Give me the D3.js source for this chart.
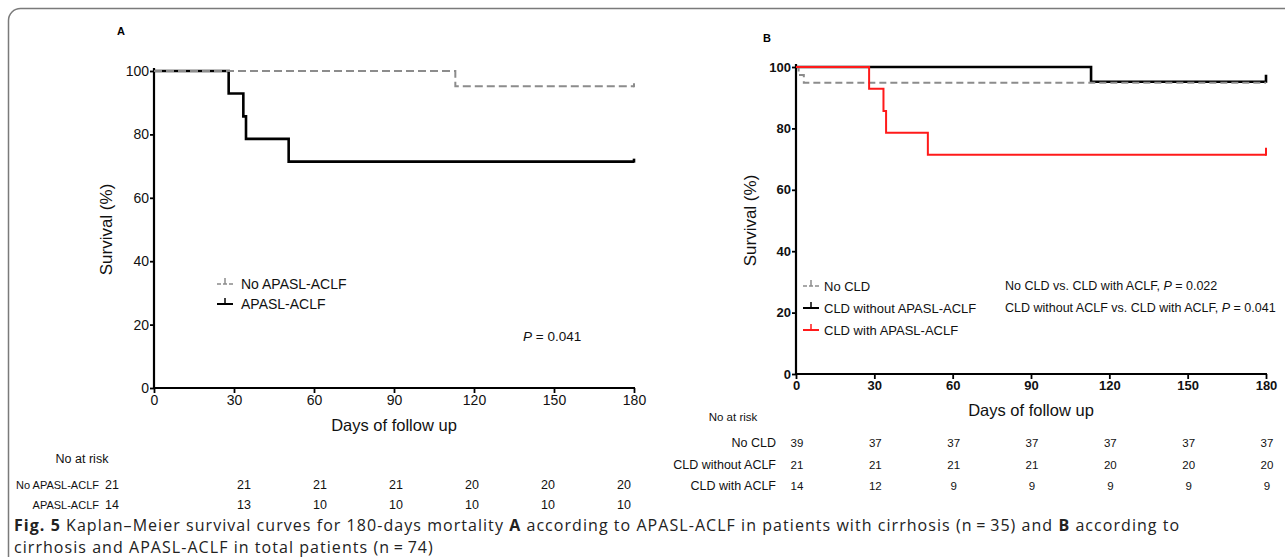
<!DOCTYPE html>
<html>
<head>
<meta charset="utf-8">
<script src="https://cdn.jsdelivr.net/npm/d3@7"></script>
<style>
  body { margin: 0; background: #fff; }
  svg text { font-family: "Liberation Sans", Arial, sans-serif; }
  svg text.caption { font-family: "Open Sans", "Noto Sans", sans-serif; font-size: 16px; letter-spacing: 1.05px; fill: #222; }
</style>
</head>
<body>
<script>
var width = 1285, height = 557;

// shared ticks
var dayTicks = [0, 30, 60, 90, 120, 150, 180];
var survTicks = [0, 20, 40, 60, 80, 100];
var endDay = 180;

// panel A curves: event times (days) and survival (%)
var noAclfTimes = [0, 113];
var noAclfSurv = [100, 95.2];
var aclfTimes = [0, 28, 33.5, 34.5, 50.5];
var aclfSurv = [100, 92.9, 85.7, 78.6, 71.4];

// panel B curves
var noCldTimes = [0, 1, 3];
var noCldSurv = [100, 97.4, 94.9];
var cldNoAclfTimes = [0, 113];
var cldNoAclfSurv = [100, 95.2];
var cldAclfTimes = [0, 28, 33.5, 34.5, 50.5];
var cldAclfSurv = [100, 92.9, 85.7, 78.6, 71.4];

// numbers at risk
var riskALabels = ["No APASL-ACLF", "APASL-ACLF"];
var riskANoAclf = [21, 21, 21, 21, 20, 20, 20];
var riskAAclf = [14, 13, 10, 10, 10, 10, 10];
var riskBLabels = ["No CLD", "CLD without ACLF", "CLD with ACLF"];
var riskBNoCld = [39, 37, 37, 37, 37, 37, 37];
var riskBCldNoAclf = [21, 21, 21, 21, 20, 20, 20];
var riskBCldAclf = [14, 12, 9, 9, 9, 9, 9];

var pTextsB = ["No CLD vs. CLD with ACLF, ", "CLD without ACLF vs. CLD with ACLF, "];
var pValuesB = ["0.022", "0.041"];

var svg = d3.select("body").append("svg")
    .attr("width", width).attr("height", height);

// figure frame
svg.append("rect")
    .attr("x", 8.5).attr("y", 8.5)
    .attr("width", 1400).attr("height", 700)
    .attr("rx", 12)
    .attr("fill", "none").attr("stroke", "#7a7a7a").attr("stroke-width", 1.5);

function toPoints(times, surv) {
  var pts = times.map(function(t, i) { return [t, surv[i]]; });
  pts.push([endDay, surv[surv.length - 1]]);
  return pts;
}

function drawPanel(cfg) {
  var x = d3.scaleLinear().domain([0, 180]).range([cfg.x0, cfg.x1]);
  var y = d3.scaleLinear().domain([0, 100]).range([cfg.y0, cfg.y1]);
  var g = svg.append("g");

  var xAxis = g.append("g").attr("transform", "translate(0," + cfg.y0 + ")")
      .call(d3.axisBottom(x).tickValues(dayTicks).tickSize(5).tickPadding(2));
  var yAxis = g.append("g").attr("transform", "translate(" + cfg.x0 + ",0)")
      .call(d3.axisLeft(y).tickValues(survTicks).tickSize(4).tickPadding(1));
  [xAxis, yAxis].forEach(function(a) {
    a.select(".domain").remove();
    a.selectAll(".tick line").attr("stroke", "#000").attr("stroke-width", 1.8);
    a.selectAll("text").attr("fill", "#111")
      .style("font-size", cfg.tickSize + "px").style("font-weight", cfg.tickWeight);
  });
  g.append("line").attr("x1", cfg.x0).attr("x2", cfg.x1 + 1)
      .attr("y1", cfg.y0).attr("y2", cfg.y0).attr("stroke", "#000").attr("stroke-width", 2.2);
  g.append("line").attr("x1", cfg.x0).attr("x2", cfg.x0)
      .attr("y1", cfg.y0 + 1).attr("y2", cfg.y1 - 3).attr("stroke", "#000").attr("stroke-width", 2.2);

  var line = d3.line()
      .x(function(d) { return x(d[0]); })
      .y(function(d) { return y(d[1]); })
      .curve(d3.curveStepAfter);

  // curves in drawing order
  cfg.curves.forEach(function(c) {
    var pts = toPoints(c.times, c.surv);
    g.append("path").attr("d", line(pts))
        .attr("fill", "none").attr("stroke", c.color)
        .attr("stroke-width", c.width)
        .attr("stroke-dasharray", c.dash || null);
    if (c.tick) {
      var last = pts[pts.length - 1];
      g.append("line").attr("x1", x(last[0])).attr("x2", x(last[0]))
          .attr("y1", y(last[1]) + 1).attr("y2", y(last[1]) - c.tick)
          .attr("stroke", c.color).attr("stroke-width", c.width);
    }
  });

  // panel letter
  g.append("text").attr("x", cfg.letterX).attr("y", cfg.letterY)
      .style("font-size", "11px").style("font-weight", "bold").text(cfg.letter);

  // axis titles
  g.append("text")
      .attr("transform", "translate(" + cfg.yTitleX + "," + ((cfg.y0 + cfg.y1) / 2) + ") rotate(-90)")
      .attr("text-anchor", "middle").style("font-size", "17px").attr("fill", "#111")
      .text("Survival (%)");
  g.append("text").attr("x", (cfg.x0 + cfg.x1) / 2).attr("y", cfg.xTitleY)
      .attr("text-anchor", "middle").style("font-size", "16.5px").attr("fill", "#111")
      .text("Days of follow up");

  // legend (own order)
  var leg = g.selectAll(".leg").data(cfg.legend).enter().append("g")
      .attr("transform", function(d, i) { return "translate(" + cfg.legX + "," + (cfg.legY + i * cfg.legStep) + ")"; });
  leg.append("line").attr("x1", 0).attr("x2", 16).attr("y1", 0).attr("y2", 0)
      .attr("stroke", function(d) { return d.color; })
      .attr("stroke-width", function(d) { return d.dash ? 1.5 : 2; })
      .attr("stroke-dasharray", function(d) { return d.dash ? "4,2" : null; });
  leg.append("line").attr("x1", 8).attr("x2", 8).attr("y1", 0).attr("y2", -6)
      .attr("stroke", function(d) { return d.color; }).attr("stroke-width", 1.5);
  leg.append("text").attr("x", cfg.legTextDx).attr("y", 5)
      .style("font-size", cfg.legFont + "px").attr("fill", "#111")
      .text(function(d) { return d.name; });

  return {x: x, y: y, g: g};
}

// ---------- panel A ----------
var aNo = {name: "No APASL-ACLF", times: noAclfTimes, surv: noAclfSurv, color: "#8c8c8c", width: 2, dash: "8,4", tick: 3};
var aYes = {name: "APASL-ACLF", times: aclfTimes, surv: aclfSurv, color: "#000", width: 2.6, tick: 3};
var pA = drawPanel({
  x0: 154, x1: 634, y0: 388, y1: 71,
  tickSize: 14, tickWeight: "normal",
  letter: "A", letterX: 117, letterY: 35,
  yTitleX: 112, xTitleY: 431,
  legX: 217, legY: 284, legStep: 20, legTextDx: 24, legFont: 14,
  curves: [aYes, aNo],
  legend: [aNo, aYes]
});
pA.g.append("text").attr("x", 523).attr("y", 341)
    .style("font-size", "13.5px").attr("fill", "#111")
    .call(function(t) {
      t.append("tspan").style("font-style", "italic").text("P");
      t.append("tspan").text(" = 0.041");
    });

// ---------- panel B ----------
var bNo = {name: "No CLD", times: noCldTimes, surv: noCldSurv, color: "#8c8c8c", width: 2, dash: "7,4"};
var bMid = {name: "CLD without APASL-ACLF", times: cldNoAclfTimes, surv: cldNoAclfSurv, color: "#000", width: 2.6, tick: 7};
var bRed = {name: "CLD with APASL-ACLF", times: cldAclfTimes, surv: cldAclfSurv, color: "#ff1a1a", width: 2, tick: 7};
var pB = drawPanel({
  x0: 796, x1: 1266, y0: 374, y1: 67,
  tickSize: 13, tickWeight: "bold",
  letter: "B", letterX: 763, letterY: 42,
  yTitleX: 756, xTitleY: 416,
  legX: 803, legY: 286, legStep: 22, legTextDx: 21, legFont: 13,
  curves: [bMid, bNo, bRed],
  legend: [bNo, bMid, bRed]
});
pTextsB.forEach(function(s, i) {
  pB.g.append("text").attr("x", 1005).attr("y", 290 + i * 22)
      .style("font-size", "12.5px").attr("fill", "#111")
      .call(function(t) {
        t.append("tspan").text(s);
        t.append("tspan").style("font-style", "italic").text("P");
        t.append("tspan").text(" = " + pValuesB[i]);
      });
});

// ---------- numbers at risk ----------
function riskTable(labels, rows, colX, labelX, titleX, titleY, rowYs, font, labelFont) {
  var g = svg.append("g").style("font-size", font + "px").attr("fill", "#111");
  g.append("text").attr("x", titleX).attr("y", titleY).attr("text-anchor", "middle").text("No at risk");
  rows.forEach(function(vals, r) {
    g.append("text").attr("x", labelX).attr("y", rowYs[r]).attr("text-anchor", "end")
        .style("font-size", labelFont + "px").text(labels[r]);
    g.selectAll(null).data(vals).enter().append("text")
        .attr("x", function(v, i) { return colX(i); })
        .attr("y", rowYs[r]).attr("text-anchor", "middle")
        .text(function(v) { return v; });
  });
}
var tableA = d3.scaleLinear().domain([30, 180]).range([244, 624]);
riskTable(riskALabels, [riskANoAclf, riskAAclf],
  function(i) { return i === 0 ? 112 : tableA(dayTicks[i]); },
  99, 82, 463, [489, 509], 12.5, 11);
riskTable(riskBLabels, [riskBNoCld, riskBCldNoAclf, riskBCldAclf],
  function(i) { return pB.x(dayTicks[i]) + 1; },
  776, 733, 421, [447, 469, 490], 11.5, 12.5);

// ---------- caption ----------
var cap = svg.append("g");
cap.append("text").attr("class", "caption").attr("x", 14).attr("y", 531)
    .call(function(t) {
      t.append("tspan").style("font-weight", "bold").text("Fig. 5");
      t.append("tspan").text("  Kaplan\u2013Meier survival curves for 180-days mortality ");
      t.append("tspan").style("font-weight", "bold").text("A");
      t.append("tspan").text(" according to APASL-ACLF in patients with cirrhosis (n\u2009=\u200935) and ");
      t.append("tspan").style("font-weight", "bold").text("B");
      t.append("tspan").text(" according to");
    });
cap.append("text").attr("class", "caption").attr("x", 14).attr("y", 553)
    .text("cirrhosis and APASL-ACLF in total patients (n\u2009=\u200974)");
</script>
</body>
</html>
